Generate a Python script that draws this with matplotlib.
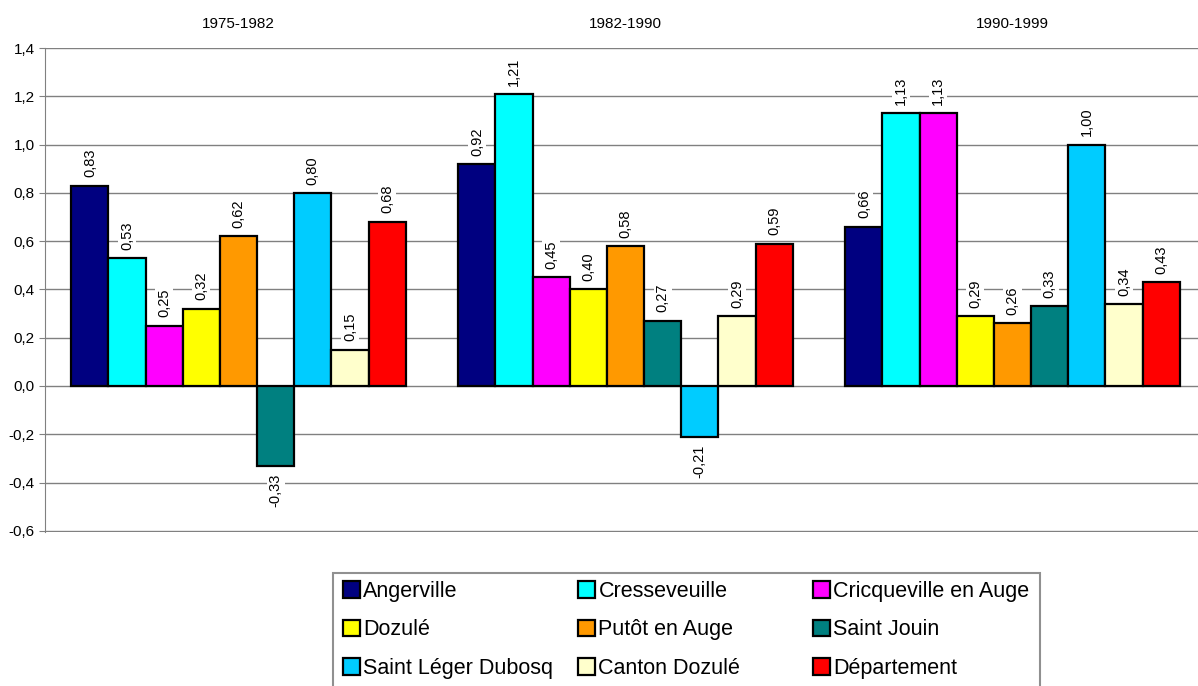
import matplotlib.pyplot as plt
from matplotlib.patches import Rectangle
import numpy as np

plt.rcParams['font.family'] = ['Liberation Sans', 'DejaVu Sans']

periods = ['1975-1982', '1982-1990', '1990-1999']
communes = ['Angerville', 'Cresseveuille', 'Cricqueville en Auge',
            'Dozulé', 'Putôt en Auge', 'Saint Jouin',
            'Saint Léger Dubosq', 'Canton Dozulé', 'Département']
colors = ['#000080', '#00FFFF', '#FF00FF',
          '#FFFF00', '#FF9900', '#008080',
          '#00CCFF', '#FFFFCC', '#FF0000']

angerville = [0.83, 0.92, 0.66]
cresseveuille = [0.53, 1.21, 1.13]
cricqueville = [0.25, 0.45, 1.13]
dozule = [0.32, 0.40, 0.29]
putot = [0.62, 0.58, 0.26]
saint_jouin = [-0.33, 0.27, 0.33]
saint_leger = [0.80, -0.21, 1.00]
canton = [0.15, 0.29, 0.34]
departement = [0.68, 0.59, 0.43]

series = [angerville, cresseveuille, cricqueville, dozule, putot,
          saint_jouin, saint_leger, canton, departement]

fig = plt.figure(figsize=(11.98, 6.86), dpi=100)
ax = fig.add_axes([45 / 1198, 1 - 532 / 686, 1161 / 1198, 484 / 686])

x = np.arange(len(periods))
w = 0.096
n = len(series)
handles = []
for i, (vals, name, c) in enumerate(zip(series, communes, colors)):
    pos = x + (i - (n - 1) / 2) * w
    bars = ax.bar(pos, vals, w, color=c, edgecolor='black', linewidth=1.6,
                  label=name, zorder=3)
    handles.append(bars)
    for xp, v in zip(pos, vals):
        txt = f'{v:.2f}'.replace('.', ',')
        off = 6 if v >= 0 else -6
        ax.annotate(txt, (xp, v), xytext=(0, off), textcoords='offset points',
                    rotation=90, ha='center', va='bottom' if v >= 0 else 'top',
                    fontsize=10.5,
                    bbox=dict(facecolor='white', edgecolor='none', pad=1.5),
                    zorder=4)

ax.set_xlim(-0.5, 2.5)
ax.set_ylim(-0.605, 1.4)
ticks = np.arange(-0.6, 1.41, 0.2)
ax.set_yticks(ticks)
ax.set_yticklabels([f'{t:.1f}'.replace('.', ',').replace('-0,0', '0,0') for t in ticks],
                   fontsize=11)
ax.yaxis.grid(True, color='#808080', linewidth=1.0, zorder=0)
ax.tick_params(axis='y', colors='#808080', labelcolor='black', length=4)

ax.xaxis.tick_top()
ax.set_xticks(x)
ax.set_xticklabels(periods, fontsize=11)
ax.tick_params(axis='x', length=0, pad=12)

for s in ['top', 'right', 'bottom']:
    ax.spines[s].set_visible(False)
ax.spines['left'].set_color('#808080')

# legend: grey frame running off the bottom, three columns filled row by row
fig.add_artist(Rectangle((333 / 1198, -0.01), (1040 - 333) / 1198, 0.01 + (686 - 573) / 686,
                         transform=fig.transFigure, facecolor='white',
                         edgecolor='#909090', linewidth=1.5, zorder=1))
col_x = [343, 578, 813]
for j, cx in enumerate(col_x):
    idx = [j, j + 3, j + 6]
    fig.legend([handles[k] for k in idx], [communes[k] for k in idx],
               loc='upper left', bbox_to_anchor=(cx / 1198, 1 - 581 / 686),
               fontsize=15.5, frameon=False,
               handlelength=0.8, handleheight=0.8, handletextpad=0.15,
               labelspacing=0.81, borderpad=0, borderaxespad=0)

fig.savefig('out.png', dpi=100)
